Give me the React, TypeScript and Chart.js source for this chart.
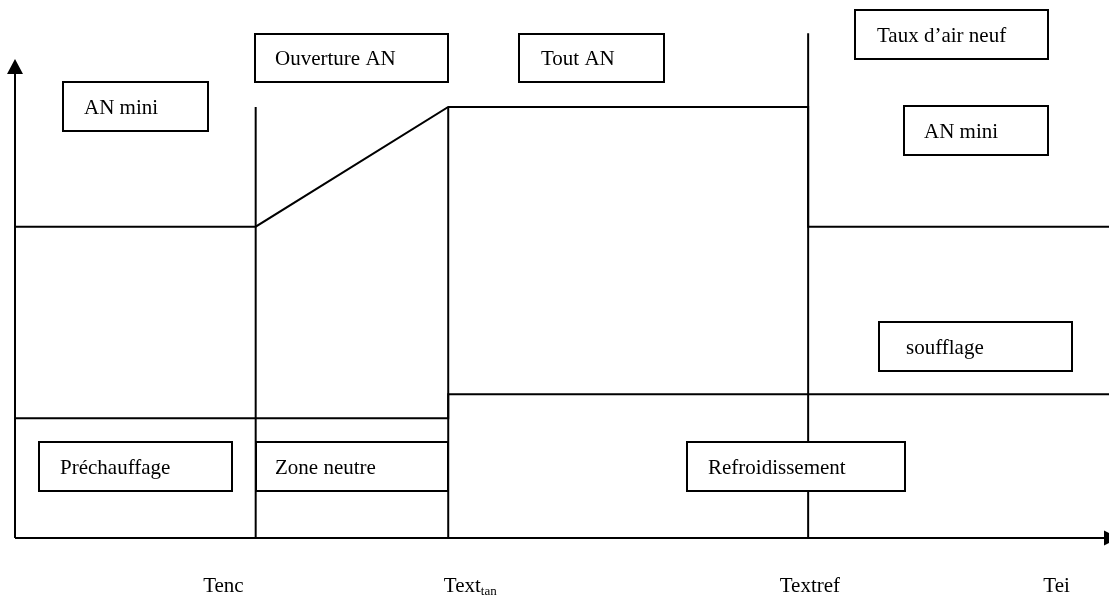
import React, { useEffect, useRef } from "react";
import { Chart, registerables } from "chart.js";

Chart.register(...registerables);

// ---- Data (schematic units: x = outdoor temperature axis 0..100, y = rate 0..100) ----
const thresholdNames = ["Tenc", "Text", "Textref", "Tei"];
const thresholdSub = ["", "tan", "", ""];
const thresholdLabelX = [17.2, 39.2, 69.9, 94.0];
const labelBaselineY = -11.2;

// Taux d'air neuf curve
const airNeufX = [0, 22, 39.6, 72.5, 72.5, 100];
const airNeufY = [65, 65, 90, 90, 65, 65];

// Soufflage curve
const soufflageX = [0, 39.6, 39.6, 100];
const soufflageY = [25, 25, 30, 30];

// Vertical zone boundaries
const boundaryX = [22, 39.6, 72.5];
const boundaryTop = [90, 90, 105.4];

// Axis extents
const axisXEnd = 100;
const axisYEnd = 100;

// Annotation boxes: label and extent in data units
const boxLabels = [
  "AN mini",
  "Ouverture AN",
  "Tout AN",
  "Taux d\u2019air neuf",
  "AN mini",
  "soufflage",
  "Préchauffage",
  "Zone neutre",
  "Refroidissement",
];
const boxX1 = [4.39, 21.98, 46.07, 76.78, 81.26, 78.98, 2.19, 22.03, 61.43];
const boxX2 = [17.64, 39.6, 59.32, 94.42, 94.42, 96.62, 19.84, 39.6, 81.35];
const boxYTop = [95.2, 105.2, 105.2, 110.2, 90.2, 45.1, 19.94, 19.94, 19.94];
const boxYBottom = [85.0, 95.1, 95.1, 100.1, 79.96, 34.9, 9.81, 9.81, 9.81];
const boxTextPad = [21, 20, 22, 22, 20, 27, 21, 19, 21];

const FONT = '"Liberation Serif", "Times New Roman", serif';

const toPts = (xs: number[], ys: number[]) => xs.map((x, i) => ({ x, y: ys[i] }));

const diagramPlugin = {
  id: "diagram",
  afterDatasetsDraw(chart: any) {
    const ctx = chart.ctx as CanvasRenderingContext2D;
    const xs = chart.scales.x;
    const ys = chart.scales.y;
    const px = (v: number) => xs.getPixelForValue(v);
    const py = (v: number) => ys.getPixelForValue(v);
    ctx.save();
    ctx.strokeStyle = "#000";
    ctx.fillStyle = "#000";
    ctx.lineWidth = 2;
    ctx.lineCap = "butt";

    // axes
    const ox = px(0);
    const oy = py(0);
    const yTip = py(axisYEnd);
    const xTip = px(axisXEnd);
    ctx.beginPath();
    ctx.moveTo(ox, oy);
    ctx.lineTo(ox, yTip + 14);
    ctx.moveTo(ox, oy);
    ctx.lineTo(xTip - 4, oy);
    ctx.stroke();
    // y arrow
    ctx.beginPath();
    ctx.moveTo(ox, yTip);
    ctx.lineTo(ox - 8, yTip + 15);
    ctx.lineTo(ox + 8, yTip + 15);
    ctx.closePath();
    ctx.fill();
    // x arrow
    ctx.beginPath();
    ctx.moveTo(xTip - 5, oy - 7.5);
    ctx.lineTo(xTip + 10, oy);
    ctx.lineTo(xTip - 5, oy + 7.5);
    ctx.closePath();
    ctx.fill();

    // boxes
    ctx.font = `21px ${FONT}`;
    ctx.textBaseline = "alphabetic";
    ctx.textAlign = "left";
    boxLabels.forEach((label, i) => {
      const x1 = Math.round(px(boxX1[i]));
      const x2 = Math.round(px(boxX2[i]));
      const y1 = Math.round(py(boxYTop[i]));
      const y2 = Math.round(py(boxYBottom[i]));
      ctx.fillStyle = "#fff";
      ctx.fillRect(x1, y1, x2 - x1, y2 - y1);
      ctx.strokeStyle = "#000";
      ctx.lineWidth = 2;
      ctx.strokeRect(x1, y1, x2 - x1, y2 - y1);
      ctx.fillStyle = "#000";
      ctx.fillText(label, x1 + boxTextPad[i], y1 + (y2 - y1) * 0.645);
    });

    // bottom labels
    thresholdNames.forEach((name, i) => {
      const x = px(thresholdLabelX[i]);
      const y = py(labelBaselineY);
      ctx.font = `21px ${FONT}`;
      ctx.fillStyle = "#000";
      ctx.fillText(name, x, y);
      if (thresholdSub[i]) {
        const w = ctx.measureText(name).width;
        ctx.font = `13px ${FONT}`;
        ctx.fillText(thresholdSub[i], x + w, y + 3);
      }
    });
    ctx.restore();
  },
};

export default function App() {
  const ref = useRef<HTMLCanvasElement | null>(null);
  useEffect(() => {
    if (!ref.current) return;
    const line = { borderColor: "#000", borderWidth: 2, pointRadius: 0, showLine: true, clip: false as any, tension: 0 };
    const datasets: any[] = [
      { ...line, label: "Taux d'air neuf", data: toPts(airNeufX, airNeufY) },
      { ...line, label: "soufflage", data: toPts(soufflageX, soufflageY) },
      ...boundaryX.map((x, i) => ({ ...line, label: "limite " + i, data: toPts([x, x], [0, boundaryTop[i]]) })),
    ];
    const chart = new Chart(ref.current, {
      type: "scatter",
      data: { datasets },
      options: {
        responsive: false,
        animation: false,
        layout: { padding: { left: 15, right: 0, top: 59, bottom: 57 } },
        plugins: { legend: { display: false }, tooltip: { enabled: false } },
        scales: {
          x: { type: "linear", min: 0, max: 100, display: false },
          y: { type: "linear", min: 0, max: 100, display: false },
        },
      },
      plugins: [diagramPlugin],
    });
    return () => chart.destroy();
  }, []);
  return (
    <div style={{ position: "fixed", left: 0, top: 0, width: 1109, height: 595, background: "#fff" }}>
      <canvas ref={ref} width={1109} height={595} style={{ width: 1109, height: 595 }} />
    </div>
  );
}
